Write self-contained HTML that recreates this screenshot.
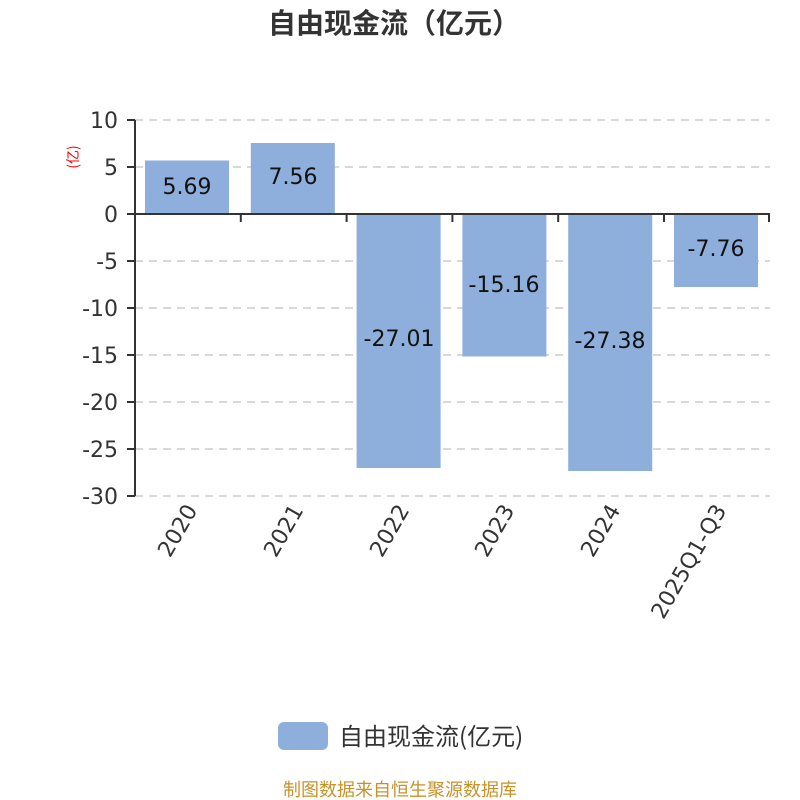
<!DOCTYPE html>
<html><head><meta charset="utf-8"><style>body{margin:0;background:#fff}svg{display:block}</style></head><body>
<svg width="800" height="800" xmlns="http://www.w3.org/2000/svg" font-family="'DejaVu Sans','Noto Sans CJK SC',sans-serif">
<text x="394" y="33" text-anchor="middle" font-size="28" font-weight="bold" fill="#333" font-family="'Noto Sans CJK SC',sans-serif">自由现金流（亿元）</text>
<g stroke="#ccc" stroke-dasharray="8,6" stroke-width="1.5">
<line x1="135" y1="120" x2="770" y2="120"/><line x1="135" y1="167" x2="770" y2="167"/>
<line x1="135" y1="261" x2="770" y2="261"/><line x1="135" y1="308" x2="770" y2="308"/>
<line x1="135" y1="355" x2="770" y2="355"/><line x1="135" y1="402" x2="770" y2="402"/>
<line x1="135" y1="449" x2="770" y2="449"/><line x1="135" y1="496" x2="770" y2="496"/>
</g>
<g fill="#8eaedb">
<rect x="145" y="160.5" width="84" height="53.5"/>
<rect x="250.8" y="143" width="84" height="71"/>
<rect x="356.6" y="214" width="84" height="254"/>
<rect x="462.4" y="214" width="84" height="142.5"/>
<rect x="568.2" y="214" width="84" height="257"/>
<rect x="674" y="214" width="84" height="73"/>
</g>
<g stroke="#333" stroke-width="2" fill="none">
<line x1="135" y1="120" x2="135" y2="496"/>
<line x1="127" y1="120" x2="135" y2="120"/><line x1="127" y1="167" x2="135" y2="167"/><line x1="127" y1="214" x2="135" y2="214"/>
<line x1="127" y1="261" x2="135" y2="261"/><line x1="127" y1="308" x2="135" y2="308"/><line x1="127" y1="355" x2="135" y2="355"/>
<line x1="127" y1="402" x2="135" y2="402"/><line x1="127" y1="449" x2="135" y2="449"/><line x1="127" y1="496" x2="135" y2="496"/>
<line x1="135" y1="214" x2="770" y2="214"/>
<line x1="240.8" y1="214" x2="240.8" y2="222"/><line x1="346.6" y1="214" x2="346.6" y2="222"/><line x1="452.4" y1="214" x2="452.4" y2="222"/>
<line x1="558.2" y1="214" x2="558.2" y2="222"/><line x1="664" y1="214" x2="664" y2="222"/><line x1="769" y1="214" x2="769" y2="222"/>
</g>
<g font-size="22" fill="#333" text-anchor="end">
<text x="118" y="128">10</text><text x="118" y="175">5</text><text x="118" y="222">0</text>
<text x="118" y="269">-5</text><text x="118" y="316">-10</text><text x="118" y="363">-15</text>
<text x="118" y="410">-20</text><text x="118" y="457">-25</text><text x="118" y="504">-30</text>
</g>
<text transform="translate(78,157) rotate(-90)" text-anchor="middle" font-size="14" fill="#e00" font-family="'Noto Sans CJK SC',sans-serif">(亿)</text>
<g font-size="22" fill="#111" text-anchor="middle">
<text x="187" y="194">5.69</text><text x="293" y="184">7.56</text><text x="399" y="346">-27.01</text>
<text x="504" y="292">-15.16</text><text x="610" y="348">-27.38</text><text x="716" y="256">-7.76</text>
</g>
<g font-size="22" fill="#333" text-anchor="end">
<text transform="translate(198,510) rotate(-60)">2020</text>
<text transform="translate(304,510) rotate(-60)">2021</text>
<text transform="translate(410,510) rotate(-60)">2022</text>
<text transform="translate(515,510) rotate(-60)">2023</text>
<text transform="translate(621,510) rotate(-60)">2024</text>
<text transform="translate(727,510) rotate(-60)">2025Q1-Q3</text>
</g>
<rect x="278" y="722" width="50" height="28" rx="6" fill="#8eaedb"/>
<text x="339" y="745" font-size="24" fill="#333" font-family="'Noto Sans CJK SC',sans-serif">自由现金流(亿元)</text>
<text x="400" y="796" text-anchor="middle" font-size="18" fill="#c8922a" font-family="'Noto Sans CJK SC',sans-serif">制图数据来自恒生聚源数据库</text>
</svg>
</body></html>
